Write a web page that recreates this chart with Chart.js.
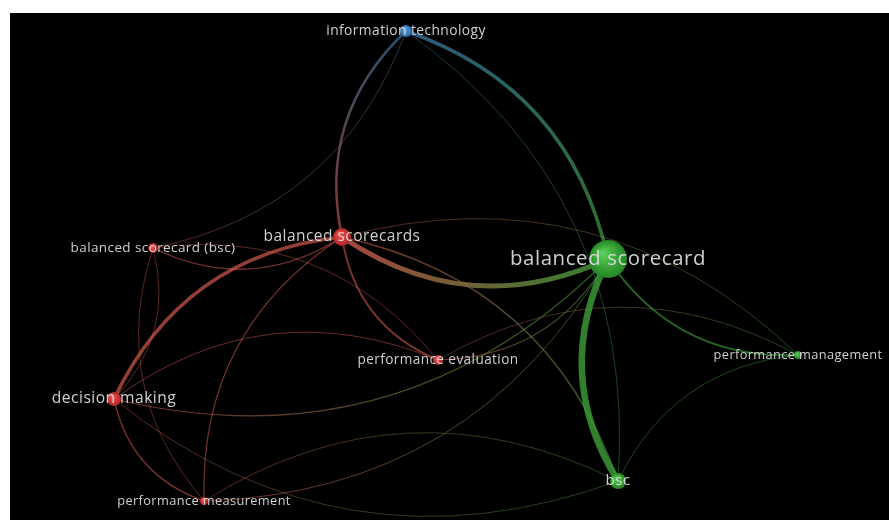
<!DOCTYPE html>
<html><head><meta charset="utf-8">
<script src="https://cdn.jsdelivr.net/npm/chart.js@4"></script>
<style>
html,body{margin:0;padding:0;background:#fff;width:889px;height:520px;overflow:hidden}
#wrap{position:absolute;left:10px;top:13px;width:879px;height:507px;background:#000}
canvas{display:block}
</style></head><body>
<div id="wrap"><canvas id="c" width="879" height="507"></canvas></div>
<script>
// ---- nodes (map coordinates) ----
const nodeLabels = ['information technology','balanced scorecards','balanced scorecard','balanced scorecard (bsc)',
  'performance evaluation','performance management','decision making','performance measurement','bsc'];
const nodeX = [396, 332, 598, 143, 428, 788, 104, 194, 608];
const nodeY = [18, 224, 246, 235, 347, 342, 386, 488, 468];
const nodeWeight = [6, 9, 19, 5, 5, 4, 7, 4, 8];
const nodeCluster = [2, 0, 1, 0, 0, 1, 0, 0, 1]; // 0 red, 1 green, 2 blue
const labelSize = [13.8, 15.5, 20.4, 13.5, 13.6, 12.8, 15.6, 12.8, 15.2];

// ---- links (from, to, strength) ----
const edgeFrom = [2, 0, 8, 3, 1, 5, 1, 1, 1, 8, 3, 6, 3, 4, 4, 6, 6, 6, 7, 8, 5, 4, 2, 2, 5];
const edgeTo   = [0, 1, 0, 0, 2, 1, 6, 4, 7, 1, 1, 3, 7, 3, 6, 2, 7, 8, 2, 7, 4, 2, 8, 5, 8];
const edgeStrength = [3.5, 2.5, 0.8, 0.8, 5, 0.8, 3.5, 1.8, 1.2, 1.5, 1.3, 0.8, 0.8, 0.8, 0.9, 1.2, 1.3, 0.8, 1, 0.8, 0.8, 1.2, 6.5, 2, 0.8];

const clusterRGB = [[214,44,44],[44,168,44],[50,130,200]];
const edgeRGB = [[205,88,76],[62,160,58],[62,125,175]];
const CURV = 0.28;

function rgba(c,a){return `rgba(${c[0]},${c[1]},${c[2]},${a})`;}

const edgePlugin = {
  id:'edges',
  beforeDatasetsDraw(chart){
    const {ctx, scales:{x, y}} = chart;
    ctx.save();
    ctx.lineCap='round';
    for(let i=0;i<edgeFrom.length;i++){
      const a=edgeFrom[i], b=edgeTo[i];
      const x1=x.getPixelForValue(nodeX[a]), y1=y.getPixelForValue(nodeY[a]);
      const x2=x.getPixelForValue(nodeX[b]), y2=y.getPixelForValue(nodeY[b]);
      const dx=x2-x1, dy=y2-y1;
      const cx=(x1+x2)/2 - CURV*dy, cy=(y1+y2)/2 + CURV*dx;
      const s=edgeStrength[i];
      const al=Math.min(0.8, 0.5+0.06*s);
      const g=ctx.createLinearGradient(x1,y1,x2,y2);
      g.addColorStop(0, rgba(edgeRGB[nodeCluster[a]], al));
      g.addColorStop(1, rgba(edgeRGB[nodeCluster[b]], al));
      ctx.strokeStyle=g;
      ctx.lineWidth=s;
      ctx.beginPath();
      ctx.moveTo(x1,y1);
      ctx.quadraticCurveTo(cx,cy,x2,y2);
      ctx.stroke();
    }
    ctx.restore();
  }
};

const labelPlugin = {
  id:'labels',
  afterDatasetsDraw(chart){
    const {ctx, scales:{x, y}} = chart;
    ctx.save();
    ctx.textAlign='center';
    ctx.textBaseline='middle';
    ctx.fillStyle='rgba(218,218,218,0.95)';
    for(let i=0;i<nodeLabels.length;i++){
      ctx.font = `${labelSize[i]}px "Open Sans"`;
      try{ ctx.letterSpacing = (labelSize[i]*0.03).toFixed(2)+'px'; }catch(e){}
      ctx.fillText(nodeLabels[i], x.getPixelForValue(nodeX[i]), y.getPixelForValue(nodeY[i]));
    }
    ctx.restore();
  }
};

function nodeFill(c){
  const i=c.dataIndex, ch=c.chart;
  if(i===undefined) return rgba(clusterRGB[0],1);
  const base=clusterRGB[nodeCluster[i]];
  if(!ch.scales || !ch.scales.x || !ch.scales.y) return rgba(base,1);
  const px=ch.scales.x.getPixelForValue(nodeX[i]), py=ch.scales.y.getPixelForValue(nodeY[i]);
  const r=nodeWeight[i];
  if(!isFinite(px) || !isFinite(py)) return rgba(base,1);
  const g=ch.ctx.createRadialGradient(px-r*0.3,py-r*0.35,0,px,py,r);
  g.addColorStop(0, rgba(base.map(v=>Math.min(255,v+45)),1));
  g.addColorStop(1, rgba(base.map(v=>Math.round(v*0.8)),1));
  return g;
}

new Chart(document.getElementById('c'), {
  type:'scatter',
  data:{datasets:[{
    data: nodeX.map((v,i)=>({x:v, y:nodeY[i]})),
    pointRadius: nodeWeight,
    pointHoverRadius: nodeWeight,
    pointBorderWidth: 0,
    pointBackgroundColor: nodeFill
  }]},
  options:{
    responsive:false, animation:false,
    layout:{padding:0, autoPadding:false},
    plugins:{legend:{display:false}, tooltip:{enabled:false}},
    scales:{
      x:{type:'linear', min:0, max:879, display:false},
      y:{type:'linear', min:0, max:507, reverse:true, display:false}
    }
  },
  plugins:[edgePlugin, labelPlugin]
});
</script>
</body></html>
